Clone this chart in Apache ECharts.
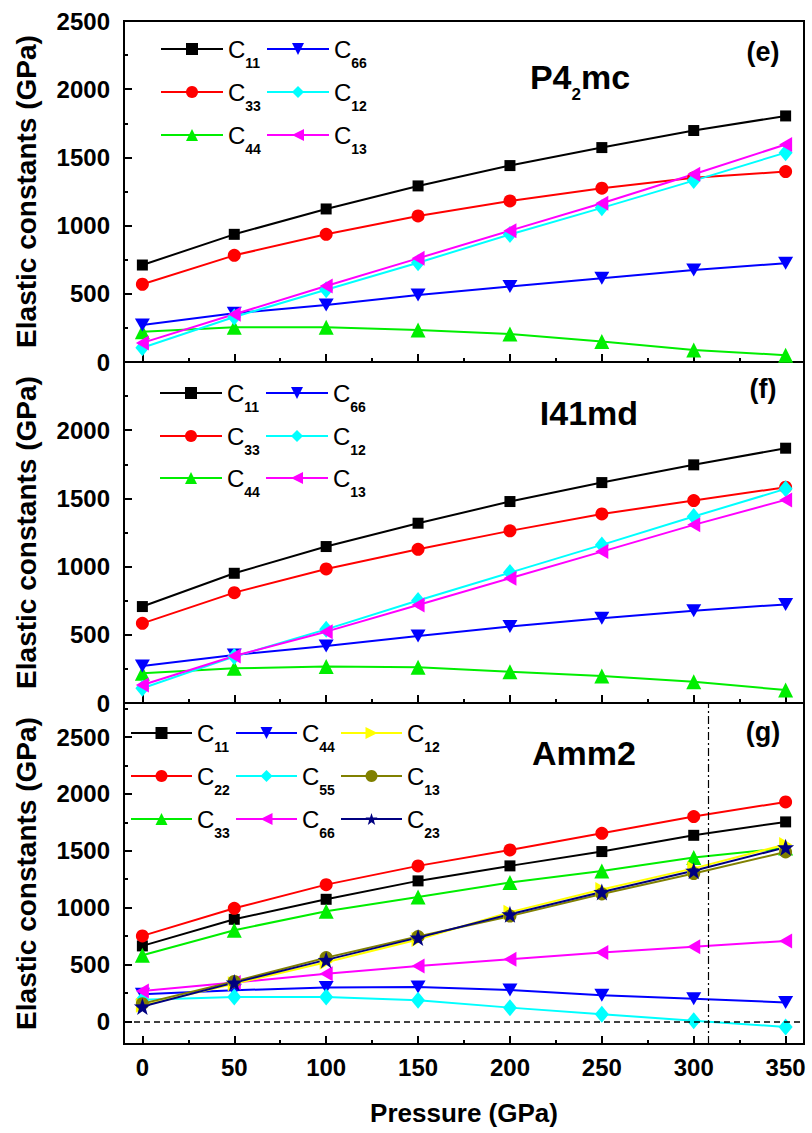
<!DOCTYPE html>
<html><head><meta charset="utf-8">
<script src="https://cdn.jsdelivr.net/npm/echarts@6/dist/echarts.min.js"></script>
<style>html,body{margin:0;padding:0;background:#fff}#chart{width:812px;height:1133px}</style>
</head><body><div id="chart"></div>
<script>
// ---------- data ----------
const pressure = [0, 50, 100, 150, 200, 250, 300, 350];
const xTicks = [0, 50, 100, 150, 200, 250, 300, 350];
const xMinorTicks = [25, 75, 125, 175, 225, 275, 325];
const yTicks = [0, 500, 1000, 1500, 2000, 2500];
const yMinorTicks = [250, 750, 1250, 1750, 2250, 2750];

// panel (e) P4_2mc
const e_C11 = [711, 936, 1122, 1291, 1440, 1572, 1697, 1804];
const e_C33 = [570, 782, 936, 1071, 1181, 1274, 1350, 1396];
const e_C44 = [222, 255, 255, 235, 205, 150, 88, 50];
const e_C66 = [271, 357, 418, 491, 553, 614, 675, 724];
const e_C12 = [105, 330, 530, 728, 935, 1130, 1330, 1535];
const e_C13 = [140, 350, 557, 760, 963, 1164, 1377, 1595];
// panel (f) I41md
const f_C11 = [707, 951, 1147, 1318, 1477, 1616, 1746, 1868];
const f_C33 = [584, 809, 983, 1127, 1262, 1386, 1484, 1582];
const f_C44 = [218, 254, 268, 262, 230, 198, 156, 95];
const f_C66 = [271, 352, 418, 491, 560, 621, 677, 723];
const f_C12 = [108, 340, 540, 751, 956, 1159, 1367, 1570];
const f_C13 = [132, 345, 523, 719, 914, 1110, 1306, 1489];
// panel (g) Amm2
const g_C11 = [663, 897, 1073, 1235, 1367, 1493, 1636, 1754];
const g_C22 = [751, 994, 1202, 1367, 1507, 1654, 1801, 1930];
const g_C33 = [581, 801, 968, 1094, 1220, 1323, 1440, 1525];
const g_C44 = [238, 273, 296, 302, 276, 229, 199, 165];
const g_C55 = [190, 214, 214, 185, 120, 62, 5, -50];
const g_C66 = [267, 340, 419, 487, 545, 604, 655, 707];
const g_C12 = [140, 330, 520, 720, 960, 1160, 1345, 1555];
const g_C13 = [155, 350, 560, 745, 925, 1120, 1300, 1490];
const g_C23 = [130, 340, 540, 736, 941, 1138, 1325, 1530];
const g_zeroLine = 0;
const g_transition = 308;

const panelNames = ['P4{s|2}mc', 'I41md', 'Amm2'];
const panelTags = ['(e)', '(f)', '(g)'];
const yTitle = 'Elastic constants (GPa)';
const xTitle = 'Pressure (GPa)';

// ---------- styles ----------
const FONT = 'Liberation Sans, Arial, sans-serif';
const SQ = 'rect', CI = 'circle', UP = 'triangle';
const DOWN = 'path://M0,0L2,0L1,1.73Z';
const LEFT = 'path://M0,1L1.73,0L1.73,2Z';
const RIGHT = 'path://M0,0L1.73,1L0,2Z';
const DIA = 'diamond';
const STAR = 'path://M1,0L1.235,0.676L1.951,0.691L1.38,1.124L1.588,1.809L1,1.4L0.412,1.809L0.62,1.124L0.049,0.691L0.765,0.676Z';

const specs = [
  // grid, key, sub, data, color, symbol, size
  [0, 'e11', '11', e_C11, '#000000', SQ, 11],
  [0, 'e33', '33', e_C33, '#ff0000', CI, 13],
  [0, 'e44', '44', e_C44, '#00ee00', UP, 15],
  [0, 'e66', '66', e_C66, '#0000ff', DOWN, [15, 13]],
  [0, 'e12', '12', e_C12, '#00ffff', DIA, [14, 17]],
  [0, 'e13', '13', e_C13, '#ff00ff', LEFT, [13, 15]],
  [1, 'f11', '11', f_C11, '#000000', SQ, 11],
  [1, 'f33', '33', f_C33, '#ff0000', CI, 13],
  [1, 'f44', '44', f_C44, '#00ee00', UP, 15],
  [1, 'f66', '66', f_C66, '#0000ff', DOWN, [15, 13]],
  [1, 'f12', '12', f_C12, '#00ffff', DIA, [14, 17]],
  [1, 'f13', '13', f_C13, '#ff00ff', LEFT, [13, 15]],
  [2, 'g11', '11', g_C11, '#000000', SQ, 11],
  [2, 'g22', '22', g_C22, '#ff0000', CI, 13],
  [2, 'g33', '33', g_C33, '#00ee00', UP, 15],
  [2, 'g44', '44', g_C44, '#0000ff', DOWN, [15, 13]],
  [2, 'g55', '55', g_C55, '#00ffff', DIA, [14, 17]],
  [2, 'g66', '66', g_C66, '#ff00ff', LEFT, [13, 15]],
  [2, 'g12', '12', g_C12, '#ffff00', RIGHT, [13, 15]],
  [2, 'g13', '13', g_C13, '#808000', CI, 13],
  [2, 'g23', '23', g_C23, '#000080', STAR, 17]
];
const subOf = {};
specs.forEach(s => subOf[s[1]] = s[2]);

const gridTops = [21, 362, 703];
const GH = 341;
const yRanges = [[0, 2500], [0, 2500], [-200, 2800]];

const grids = gridTops.map(t => ({left: 124, top: t, width: 680, height: GH, show: true, borderColor: '#000', borderWidth: 2}));

const xAxes = [], yAxes = [];
const axisLbl = {color: '#000', fontSize: 24, fontWeight: 'bold', fontFamily: FONT, formatter: v => String(v)};
gridTops.forEach((t, i) => {
  xAxes.push({
    gridIndex: i, type: 'value', min: -10, max: 360, position: 'bottom',
    axisLine: {show: true, onZero: false, lineStyle: {color: '#000', width: 2}},
    axisTick: {show: true, inside: true, length: 8, customValues: xTicks, lineStyle: {color: '#000', width: 2}},
    axisLabel: Object.assign({show: i === 2, margin: 11, customValues: xTicks}, axisLbl),
    splitLine: {show: false},
    name: i === 2 ? xTitle : '', nameLocation: 'middle', nameGap: 56,
    nameTextStyle: {color: '#000', fontSize: 26, fontWeight: 'bold', fontFamily: FONT}
  });
  xAxes.push({
    gridIndex: i, type: 'value', min: -10, max: 360, position: 'bottom',
    axisLine: {show: false, onZero: false},
    axisTick: {show: true, inside: true, length: 4, customValues: xMinorTicks, lineStyle: {color: '#000', width: 2}},
    axisLabel: {show: false}, splitLine: {show: false}
  });
  yAxes.push({
    gridIndex: i, type: 'value', min: yRanges[i][0], max: yRanges[i][1], position: 'left',
    axisLine: {show: true, onZero: false, lineStyle: {color: '#000', width: 2}},
    axisTick: {show: true, inside: true, length: 8, customValues: yTicks, lineStyle: {color: '#000', width: 2}},
    axisLabel: Object.assign({margin: 14, customValues: i === 1 ? yTicks.slice(0, -1) : yTicks}, axisLbl),
    splitLine: {show: false},
    name: yTitle, nameLocation: 'middle', nameGap: 84, nameRotate: 90,
    nameTextStyle: {color: '#000', fontSize: 28, fontWeight: 'bold', fontFamily: FONT}
  });
  yAxes.push({
    gridIndex: i, type: 'value', min: yRanges[i][0], max: yRanges[i][1], position: 'left',
    axisLine: {show: false, onZero: false},
    axisTick: {show: true, inside: true, length: 4, customValues: yMinorTicks.filter(v => v < yRanges[i][1]), lineStyle: {color: '#000', width: 2}},
    axisLabel: {show: false}, splitLine: {show: false}
  });
});

const series = specs.map(s => ({
  type: 'line', name: s[1], xAxisIndex: 2 * s[0], yAxisIndex: 2 * s[0],
  data: pressure.map((p, k) => [p, s[3][k]]),
  symbol: s[5], symbolSize: s[6], showSymbol: true,
  lineStyle: {color: s[4], width: 2}, itemStyle: {color: s[4]},
  emphasis: {disabled: true}, silent: true, animation: false
}));
// reference lines in panel (g)
series.push({
  type: 'line', name: 'refs', xAxisIndex: 4, yAxisIndex: 4, data: [], silent: true,
  markLine: {
    silent: true, symbol: 'none', label: {show: false}, animation: false,
    data: [
      {yAxis: g_zeroLine, lineStyle: {color: '#000', width: 1.5, type: [6, 4]}},
      {xAxis: g_transition, lineStyle: {color: '#000', width: 1.2, type: [8, 3, 2, 3]}}
    ]
  }
});

const rich = {
  c: {fontSize: 24, fontFamily: FONT, color: '#000', lineHeight: 24, verticalAlign: 'top'},
  s: {fontSize: 14, fontFamily: FONT, fontWeight: 'bold', color: '#000', lineHeight: 14, verticalAlign: 'top', padding: [19, 0, 0, 0]}
};
// legend layout: one entry per item (column x, row centre y, icon width)
const legendItems = [
  ['e11', 160, 49, 62], ['e66', 266, 49, 62],
  ['e33', 160, 92, 62], ['e12', 266, 92, 62],
  ['e44', 160, 135, 62], ['e13', 266, 135, 62],
  ['f11', 159, 393, 62], ['f66', 265, 393, 62],
  ['f33', 159, 436, 62], ['f12', 265, 436, 62],
  ['f44', 159, 478, 62], ['f13', 265, 478, 62],
  ['g11', 130, 733, 61], ['g44', 235, 733, 61], ['g12', 340, 733, 61],
  ['g22', 130, 776, 61], ['g55', 235, 776, 61], ['g13', 340, 776, 61],
  ['g33', 130, 819, 61], ['g66', 235, 819, 61], ['g23', 340, 819, 61]
];
const legends = legendItems.map(r => ({
  data: [r[0]], left: r[1], top: r[2] - 12, orient: 'horizontal', padding: 0,
  itemWidth: r[3], itemHeight: 15, itemGap: 0, selectedMode: false,
  formatter: n => '{c|C}{s|' + subOf[n] + '}',
  textStyle: {rich: rich}
}));

const titleStyle = {fontSize: 34, fontWeight: 'bold', fontFamily: FONT, fill: '#000'};
const graphic = [
  {type: 'text', style: {x: 580, y: 77, text: '{a|P4}{s|2}{a|mc}', align: 'center', verticalAlign: 'middle',
    rich: {a: {fontSize: 34, fontWeight: 'bold', fontFamily: FONT, lineHeight: 34, verticalAlign: 'top'},
           s: {fontSize: 17, fontWeight: 'bold', fontFamily: FONT, lineHeight: 17, verticalAlign: 'top', padding: [26, 0, 0, 0]}}}},
  {type: 'text', style: Object.assign({x: 589, y: 413, text: panelNames[1], align: 'center', verticalAlign: 'middle'}, titleStyle)},
  {type: 'text', style: Object.assign({x: 584, y: 753, text: panelNames[2], align: 'center', verticalAlign: 'middle'}, titleStyle)}
].concat(panelTags.map((t, i) => ({
  type: 'text', style: {x: 763, y: [52, 389, 732][i], text: t, align: 'center', verticalAlign: 'middle',
    fontSize: 27, fontWeight: 'bold', fontFamily: FONT, fill: '#000'}
})));

const chart = echarts.init(document.getElementById('chart'), null, {renderer: 'svg'});
chart.setOption({
  animation: false,
  backgroundColor: '#fff',
  grid: grids, xAxis: xAxes, yAxis: yAxes,
  legend: legends, series: series, graphic: graphic
});
</script></body></html>
